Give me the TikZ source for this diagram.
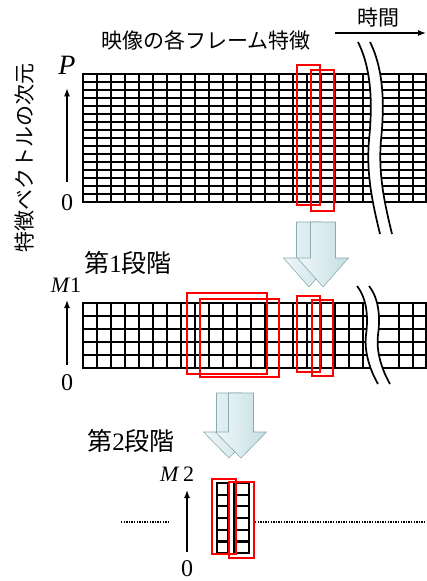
\documentclass[tikz,border=0pt]{standalone}
\usepackage{fontspec}
\setmainfont{Liberation Serif}
\newfontfamily\jp{Noto Sans CJK JP}
\usetikzlibrary{arrows.meta}
\definecolor{arrowlight}{HTML}{F0F7F9}
\definecolor{arrowdark}{HTML}{C4DEE3}
\definecolor{arrowedge}{HTML}{8CAAB2}
\tikzset{
  gridline/.style={line width=2.3pt, line cap=rect},
  redbox/.style={draw=red, line width=2.9pt},
  axis/.style={-{Latex[length=8pt,width=6pt]}, line width=1.3pt},
  cut/.style={line width=1.7pt},
  blockarr/.style={draw=arrowedge, line width=0.6pt, left color=arrowlight, right color=arrowdark},
  dots/.style={line width=1.8pt, dash pattern=on 1.4pt off 1.2pt},
  lbl/.style={inner sep=0pt, font=\jp\fontsize{21}{24}\selectfont},
  stagelbl/.style={inner sep=0pt, font=\fontsize{25}{28}\selectfont},
  num/.style={inner sep=0pt, font=\fontsize{24}{26}\selectfont},
}
\begin{document}
\begin{tikzpicture}[x=1pt, y=-1pt]
  \useasboundingbox (0,0) rectangle (427,581);

  % Labels
  \node[lbl] (title) at (206,40) {映像の各フレーム特徴};
  \node[lbl] (time) at (378,18) {時間};
  \coordinate (tstart) at (335,33);
  \coordinate (tend) at (426,33);
  \draw[axis] (tstart) -- (tend);
  \node[lbl, rotate=90] (dim) at (25,158) {特徴ベクトルの次元};

  % Frame features
  \foreach \r in {0,...,16} \draw[gridline] (83,74+8*\r) -- (426,74+8*\r);
  \foreach \x in {83,97,...,363} \draw[gridline] (\x,74) -- (\x,202);
  \foreach \x in {399,413,426} \draw[gridline] (\x,74) -- (\x,202);
  \fill[white] (358,42) .. controls (373,72) and (372,110) .. (369,140) .. controls (366,175) and (373,205) .. (380,234)
    -- (392,234) .. controls (385,205) and (378,175) .. (381,140) .. controls (384,110) and (385,72) .. (370,42) -- cycle;
  \draw[cut] (358,42) .. controls (373,72) and (372,110) .. (369,140) .. controls (366,175) and (373,205) .. (380,234);
  \draw[cut] (370,42) .. controls (385,72) and (384,110) .. (381,140) .. controls (378,175) and (385,205) .. (392,234);
  \draw[redbox] (297,65) rectangle (320,205);
  \draw[redbox] (311,70) rectangle (334,211);

  \node[inner sep=0pt, font=\fontsize{28}{30}\selectfont\itshape] (p) at (67,65) {P};
  \node[num] (z0) at (67,203) {0};
  \draw[axis, shorten <=13pt, shorten >=14pt] (z0) -- (p);

  % Stage 1
  \node[stagelbl] (st1) at (128,263) {{\jp 第}1{\jp 段階}};
  \foreach \r in {0,...,5} \draw[gridline] (83,303+13*\r) -- (426,303+13*\r);
  \foreach \x in {83,97,...,363} \draw[gridline] (\x,303) -- (\x,368);
  \foreach \x in {399,413,426} \draw[gridline] (\x,303) -- (\x,368);
  \fill[white] (357,286) .. controls (368,300) and (368,320) .. (366,335) .. controls (364,352) and (370,370) .. (378,384)
    -- (390,384) .. controls (382,370) and (376,352) .. (378,335) .. controls (380,320) and (380,300) .. (369,286) -- cycle;
  \draw[cut] (357,286) .. controls (368,300) and (368,320) .. (366,335) .. controls (364,352) and (370,370) .. (378,384);
  \draw[cut] (369,286) .. controls (380,300) and (380,320) .. (378,335) .. controls (376,352) and (382,370) .. (390,384);
  \draw[redbox] (187,293) rectangle (267,374);
  \draw[redbox] (200,299) rectangle (279,377);
  \draw[redbox] (297,296) rectangle (320,372);
  \draw[redbox] (312,300) rectangle (333,376);

  \node[inner sep=0pt, font=\fontsize{22}{24}\selectfont] (m1) at (66,285) {\textit{M}1};
  \node[num] (z1) at (67,383) {0};
  \draw[axis, shorten <=10pt, shorten >=15pt] (z1) -- (z1 |- m1.center);

  % Stage 2
  \node[stagelbl] (st2) at (131,441) {{\jp 第}2{\jp 段階}};
  \draw[dots] (121,522) -- (168,522);
  \draw[dots] (255,522) -- (427,522);
  \foreach \x in {217,228,234,249} \draw[gridline] (\x,483) -- (\x,553);
  \foreach \r in {0,...,6} {
    \draw[gridline] (217,483+11.67*\r) -- (228,483+11.67*\r);
    \draw[gridline] (234,483+11.67*\r) -- (249,483+11.67*\r);
  }
  \draw[redbox] (212,479) rectangle (236,554);
  \draw[redbox] (229,482) rectangle (254,558);

  \node[inner sep=0pt, font=\fontsize{22}{24}\selectfont] (m2) at (177,474) {\textit{M}\,2};
  \node[num] (z2) at (187,569) {0};
  \draw[axis, shorten <=9pt, shorten >=16pt] (z2) -- (z2 |- m2.center);

  % Steps
  \foreach \cx/\yt/\yh/\yb in {309/222/258/287, 323/222/258/287, 229/393/432/458, 241/393/432/458}
    \draw[blockarr] ({\cx-12.5},\yt) -- ({\cx+12.5},\yt) -- ({\cx+12.5},\yh) -- ({\cx+25.5},\yh)
      -- (\cx,\yb) -- ({\cx-25.5},\yh) -- ({\cx-12.5},\yh) -- cycle;
\end{tikzpicture}
\end{document}
